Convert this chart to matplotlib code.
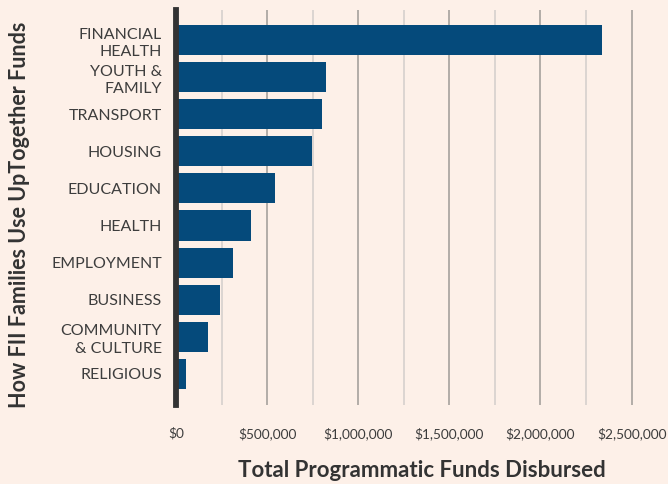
import matplotlib
matplotlib.use("Agg")
import matplotlib.pyplot as plt
from matplotlib.ticker import FuncFormatter, MultipleLocator

categories = ["FINANCIAL\nHEALTH", "YOUTH &\nFAMILY", "TRANSPORT", "HOUSING", "EDUCATION",
              "HEALTH", "EMPLOYMENT", "BUSINESS", "COMMUNITY\n& CULTURE", "RELIGIOUS"]
values = [2340000, 822000, 800000, 745000, 542000, 412000, 313000, 241000, 176000, 55000]
x_ticks = [0, 500000, 1000000, 1500000, 2000000, 2500000]

bg = "#FDF0E8"
bar_color = "#054A7B"
text_dark = "#333333"

plt.rcParams['font.family'] = ['Lato', 'DejaVu Sans']

W, H = 668, 484
fig = plt.figure(figsize=(W / 100, H / 100), dpi=100, facecolor=bg)
ax = fig.add_axes([176 / W, 79 / H, (668 - 176) / W, (405 - 10) / H])
ax.set_facecolor(bg)

ypos = list(range(len(categories)))
ax.barh(ypos, values, height=0.81, color=bar_color, zorder=3)
ax.set_ylim(len(categories) - 1 + 0.84, -0.81)
ax.set_xlim(0, 2700000)

ax.set_yticks(ypos)
ax.set_yticklabels(categories, fontsize=11.5, color="#3d3d3d", linespacing=1.3)
ax.tick_params(axis='y', length=0, pad=10)

ax.set_xticks(x_ticks)
ax.xaxis.set_major_formatter(FuncFormatter(lambda v, p: "$0" if v == 0 else "${:,.0f}".format(v)))
ax.xaxis.set_minor_locator(MultipleLocator(250000))
ax.tick_params(axis='x', which='both', length=0, pad=16, labelsize=9.8, labelcolor="#3d3d3d")

ax.grid(axis='x', which='major', color="#ADA7A3", linewidth=1.3, zorder=1)
ax.grid(axis='x', which='minor', color="#D9D3CF", linewidth=1.3, zorder=1)
ax.grid(axis='y', visible=False)

for s in ['top', 'right', 'bottom']:
    ax.spines[s].set_visible(False)
ax.spines['left'].set_color(text_dark)
ax.spines['left'].set_linewidth(4.2)
ax.spines['left'].set_zorder(4)

ax.set_xlabel("Total Programmatic Funds Disbursed", fontsize=16, fontweight='bold',
              color=text_dark, labelpad=14)
fig.text(20 / W, 1 - 215 / H, "How FII Families Use UpTogether Funds", rotation=90,
         fontsize=15.5, fontweight='bold', color=text_dark, ha='center', va='center')

fig.savefig("out.png", dpi=100, facecolor=bg)
